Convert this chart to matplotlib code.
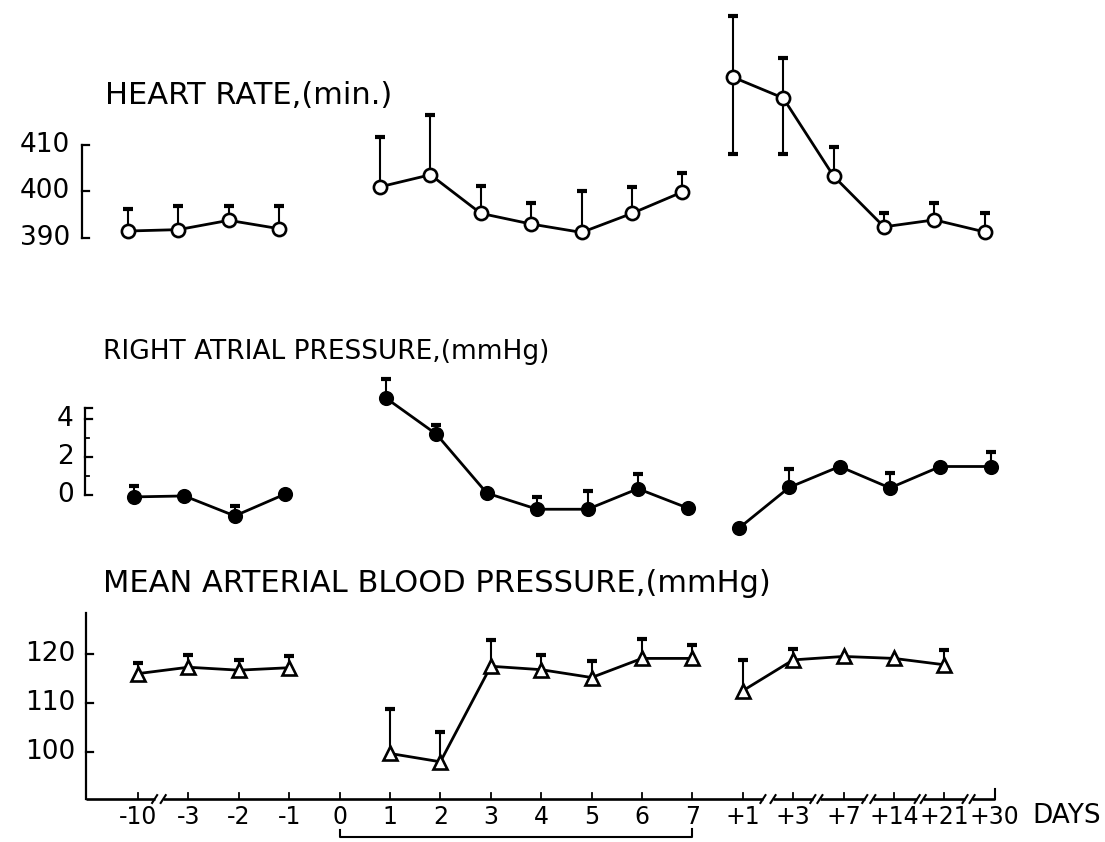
import matplotlib.pyplot as plt

# x slots (equal spacing in the original figure)
day_labels = ['-10', '-3', '-2', '-1', '0', '1', '2', '3', '4', '5', '6', '7',
              '+1', '+3', '+7', '+14', '+21', '+30']
pre_idx = [0, 1, 2, 3]
dur_idx = [5, 6, 7, 8, 9, 10, 11]
post_idx = [12, 13, 14, 15, 16, 17]

# heart rate (/min)
hr_pre = [391.5, 391.8, 393.8, 392.0]
hr_pre_up = [4.8, 5.0, 3.0, 4.8]
hr_dur = [401.0, 403.6, 395.3, 393.0, 391.2, 395.3, 399.9]
hr_dur_up = [10.7, 12.8, 5.9, 4.6, 8.8, 5.6, 4.0]
hr_post = [424.6, 420.1, 403.3, 392.4, 393.9, 391.3]
hr_post_up = [13.1, 8.6, 6.3, 3.0, 3.6, 4.1]
hr_post_down = [16.5, 12.0, 0, 0, 0, 0]

# right atrial pressure (mmHg)
rap_pre = [-0.1, -0.05, -1.1, 0.05]
rap_pre_up = [0.55, 0, 0.5, 0]
rap_dur = [5.1, 3.2, 0.1, -0.75, -0.75, 0.33, -0.7]
rap_dur_up = [1.0, 0.5, 0, 0.65, 0.95, 0.77, 0]
rap_post = [-1.75, 0.4, 1.5, 0.37, 1.5, 1.5]
rap_post_up = [0, 0.95, 0, 0.78, 0, 0.75]

# mean arterial blood pressure (mmHg)
map_pre = [116.0, 117.3, 116.7, 117.2]
map_pre_up = [2.2, 2.5, 2.1, 2.3]
map_dur = [99.7, 98.0, 117.5, 116.8, 115.2, 119.1, 119.1]
map_dur_up = [9.0, 6.1, 5.3, 3.0, 3.3, 3.9, 2.8]
map_post = [112.5, 118.8, 119.5, 119.1, 117.8]
map_post_up = [6.3, 2.3, 0, 0, 3.0]

W, H = 1105, 842
PX = 50.4   # pixels per slot
X0 = 138    # pixel of slot 0
FS = 19

plt.rcParams['font.family'] = 'DejaVu Sans'
fig = plt.figure(figsize=(W / 100, H / 100), dpi=100)


def panel(top_px, bot_px, ref_val, ref_px, ppu, shift):
    ax = fig.add_axes([0, 1 - bot_px / H, 1, (bot_px - top_px) / H])
    x0 = X0 + shift
    ax.set_xlim(-x0 / PX, (W - x0) / PX)
    ax.set_ylim(ref_val - (bot_px - ref_px) / ppu, ref_val + (ref_px - top_px) / ppu)
    ax.axis('off')
    return ax


def series(ax, idx, vals, up, down=None, marker='o', fc='white', ms=9):
    if down is None:
        down = [0] * len(vals)
    ax.plot(idx, vals, '-', color='k', lw=2.0, zorder=2)
    for x, v, u, d in zip(idx, vals, up, down):
        if u > 0:
            ax.plot([x, x], [v, v + u], color='k', lw=1.5, zorder=1)
            ax.plot(x, v + u, marker='_', ms=7, mew=3, color='k', zorder=1)
        if d > 0:
            ax.plot([x, x], [v, v - d], color='k', lw=1.5, zorder=1)
            ax.plot(x, v - d, marker='_', ms=7, mew=3, color='k', zorder=1)
    ax.plot(idx, vals, ls='none', marker=marker, ms=ms, mfc=fc, mec='k', mew=1.9, zorder=3)


def yaxis(ax, x, lo, hi, ticks, minor=(), hook=0.14):
    ax.plot([x, x], [lo, hi], color='k', lw=1.6)
    ax.plot([x, x + hook], [lo, lo], color='k', lw=1.6)
    ax.plot([x, x + hook], [hi, hi], color='k', lw=1.6)
    for t in ticks:
        ax.plot([x, x + hook], [t, t], color='k', lw=1.6)
    for t in minor:
        ax.plot([x, x + 0.07], [t, t], color='k', lw=1.3)


# heart rate
ax1 = panel(0, 270, 400, 191.5, 4.65, -10)
for idx, v, u, d in [(pre_idx, hr_pre, hr_pre_up, None),
                     (dur_idx, hr_dur, hr_dur_up, None),
                     (post_idx, hr_post, hr_post_up, hr_post_down)]:
    series(ax1, idx, v, u, d, marker='o', fc='white', ms=9.5)
yaxis(ax1, -0.913, 390, 410, [400])
for t in [410, 400, 390]:
    ax1.text(-1.15, t, str(t), ha='right', va='center', fontsize=FS)

# right atrial pressure
ax2 = panel(300, 560, 0, 495, 19, -4)
for idx, v, u in [(pre_idx, rap_pre, rap_pre_up),
                  (dur_idx, rap_dur, rap_dur_up),
                  (post_idx, rap_post, rap_post_up)]:
    series(ax2, idx, v, u, marker='o', fc='k', ms=9)
yaxis(ax2, -0.97, 0, 4.6, [2, 4], minor=[1, 3])
for t in [4, 2, 0]:
    ax2.text(-1.2, t, str(t), ha='right', va='center', fontsize=FS)

# mean arterial blood pressure
ax3 = panel(590, 842, 100, 752, 4.9, 0)
for idx, v, u in [(pre_idx, map_pre, map_pre_up),
                  (dur_idx, map_dur, map_dur_up),
                  (post_idx[:5], map_post, map_post_up)]:
    series(ax3, idx, v, u, marker='^', fc='white', ms=10.5)
base = 90.4
ax3.plot([-1.03, -1.03], [base, 128.4], color='k', lw=1.6)
for t in [100, 110, 120]:
    ax3.plot([-1.03, -0.89], [t, t], color='k', lw=1.6)
    ax3.text(-1.25, t, str(t), ha='right', va='center', fontsize=FS)

# broken day axis
segments = [(-1.03, 0.33), (0.5, 12.4), (12.6, 13.39), (13.53, 14.42),
            (14.58, 15.46), (15.58, 16.41), (16.55, 17.0)]
for a, b in segments:
    ax3.plot([a, b], [base, base], color='k', lw=1.9, solid_capstyle='butt')
for a, b in zip([s[1] for s in segments[:-1]], [s[0] for s in segments[1:]]):
    for xm in (a, b):
        ax3.plot([xm - 0.05, xm + 0.05], [base - 0.8, base + 0.8], color='k', lw=1.5)
ax3.plot([17.0, 17.0], [base, base + 2.0], color='k', lw=1.5)
for i, lab in enumerate(day_labels):
    ax3.plot([i, i], [base, base + 1.2], color='k', lw=1.3)
    ax3.text(i, 86.7, lab, ha='center', va='center', fontsize=FS - 2)
ax3.text(17.75, 86.9, 'DAYS', ha='left', va='center', fontsize=FS)

# treatment bracket under days 0-7
ax3.plot([4, 4, 11, 11], [84.0, 82.65, 82.65, 84.2], color='k', lw=1.5, clip_on=False)

# panel titles
fig.text(105 / W, 1 - 95 / H, 'HEART RATE,(min.)', ha='left', va='center', fontsize=22)
fig.text(103 / W, 1 - 352 / H, 'RIGHT ATRIAL PRESSURE,(mmHg)', ha='left', va='center', fontsize=19)
fig.text(103 / W, 1 - 583 / H, 'MEAN ARTERIAL BLOOD PRESSURE,(mmHg)', ha='left', va='center',
         fontsize=22)

fig.savefig('out.png', dpi=100)
